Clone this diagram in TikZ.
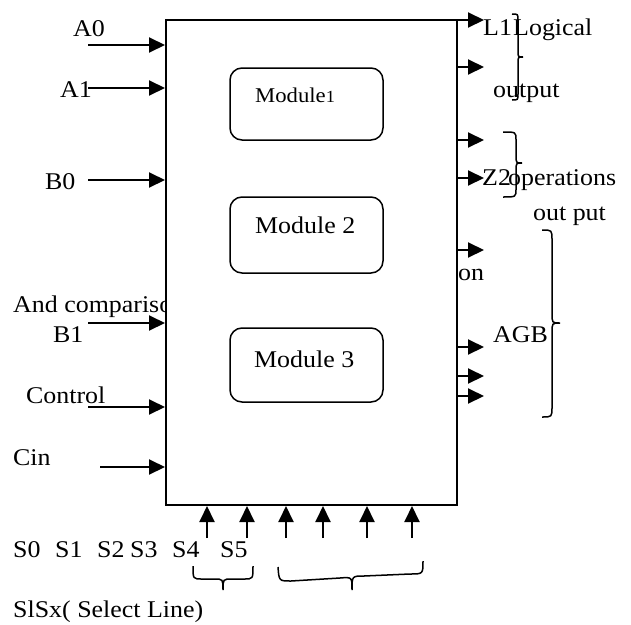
\documentclass[tikz,border=0pt]{standalone}
\usepackage{fontspec}
\setmainfont[FakeStretch=1.08]{Liberation Serif}
\usetikzlibrary{arrows.meta}

% right-pointing curly brace: x, top y, bottom y, tip y, stem offset, tip offset, curl radius
\newcommand\sideBrace[7]{%
  \draw[brc] (#1,#2) .. controls (#1+#5,#2) .. (#1+#5,#2+#7) -- (#1+#5,#4-#7)
    .. controls (#1+#5,#4) .. (#1+#6,#4) .. controls (#1+#5,#4) .. (#1+#5,#4+#7)
    -- (#1+#5,#3-#7) .. controls (#1+#5,#3) .. (#1,#3);}
% downward-pointing curly brace: left x, right x, y, tip x, stem offset, tip offset, curl radius
\newcommand\footBrace[7]{%
  \draw[brc] (#1,#3) .. controls (#1,#3+#5) .. (#1+#7,#3+#5) -- (#4-#7,#3+#5)
    .. controls (#4,#3+#5) .. (#4,#3+#6) .. controls (#4,#3+#5) .. (#4+#7,#3+#5)
    -- (#2-#7,#3+#5) .. controls (#2,#3+#5) .. (#2,#3);}

\begin{document}
\begin{tikzpicture}[x=1pt,y=-1pt,
  lbl/.style={anchor=base west, inner sep=0pt, font=\fontsize{24}{26}\selectfont},
  sig/.style={line width=2pt, -{Triangle[length=16pt,width=15pt]}},
  brc/.style={line width=1.5pt},
  modbox/.style={draw, line width=1.5pt, rounded corners=12pt, fill=white,
    minimum width=153pt, inner sep=0pt}]
\useasboundingbox (0,0) rectangle (631,624);

% text partly hidden behind the main block
\node[lbl] (cmp) at (13,312) {And comparison};

% main block
\node[draw, line width=2pt, fill=white, minimum width=291pt, minimum height=485pt,
  inner sep=0pt] (main) at (311.5,262.5) {};

% internal modules
\node[modbox, minimum height=72pt] (m1) at (306.5,104) {};
\node[modbox, minimum height=76pt] (m2) at (306.5,235) {};
\node[modbox, minimum height=74pt] (m3) at (306.5,365) {};
\node[lbl, font=\fontsize{21}{23}\selectfont] (m1t) at (255,102) {Module{\fontsize{17}{18}\selectfont 1}};
\node[lbl] (m2t) at (255,233) {Module 2};
\node[lbl] (m3t) at (254,367) {Module 3};

% left inputs
\coordinate (ia0) at (88,45);
\coordinate (ia1) at (88,88);
\coordinate (ib0) at (88,180);
\coordinate (ib1) at (88,323);
\coordinate (ict) at (88,407);
\coordinate (ici) at (100,467);
\foreach \c in {ia0,ia1,ib0,ib1,ict,ici}
  \draw[sig] (\c) -- (\c -| main.west);

\node[lbl] (la0) at (73,36) {A0};
\node[lbl] (la1) at (60,97) {A1};
\node[lbl] (lb0) at (45,189) {B0};
\node[lbl] (lb1) at (53,342) {B1};
\node[lbl] (lct) at (26,403) {Control};
\node[lbl] (lci) at (13,465) {Cin};

% bottom select inputs
\foreach \n/\x in {s1/207,s2/247,s3/286,s4/323,s5/367,s6/412}{
  \coordinate (\n) at (\x,538);
  \draw[sig] (\n) -- (\n |- main.south);
}
\node[lbl] (ls0) at (13,557) {S0};
\node[lbl] (ls1) at (55,557) {S1};
\node[lbl] (ls2) at (97,557) {S2};
\node[lbl] (ls3) at (130,557) {S3};
\node[lbl] (ls4) at (172,557) {S4};
\node[lbl] (ls5) at (220,557) {S5};
\node[lbl] (lsel) at (13,617) {SlSx( Select Line)};

\footBrace{193}{253}{566}{223}{13}{24}{9}
\draw[brc] (278,567) .. controls (279,581) .. (291,581) -- (340,578)
  .. controls (352,577) .. (352,590) .. controls (352,576) .. (364,576)
  -- (410,574) .. controls (423,574) .. (423,561);

% right outputs
\foreach \n/\y in {o1/20,o2/67,o3/140,o4/178,o5/250,o6/347,o7/376,o8/396}{
  \coordinate (\n) at (484,\y);
  \draw[sig] (\n -| main.east) -- (\n);
}

\node[lbl] (ll1) at (483,35) {L1};
\node[lbl] (llog) at (513,35) {Logical};
\node[lbl] (lout) at (493,97) {output};
\node[lbl] (lz2) at (482,185) {Z2};
\node[lbl] (lops) at (508,185) {operations};
\node[lbl] (lop2) at (533,220) {out put};
\node[lbl] (lon) at (458,280) {on};
\node[lbl] (lagb) at (493,342) {AGB};

\sideBrace{512}{14}{100}{57}{6}{11}{6}
\sideBrace{503}{132}{197}{163}{13}{19}{8}
\sideBrace{542}{230}{417}{323}{10}{18}{10}
\end{tikzpicture}
\end{document}
